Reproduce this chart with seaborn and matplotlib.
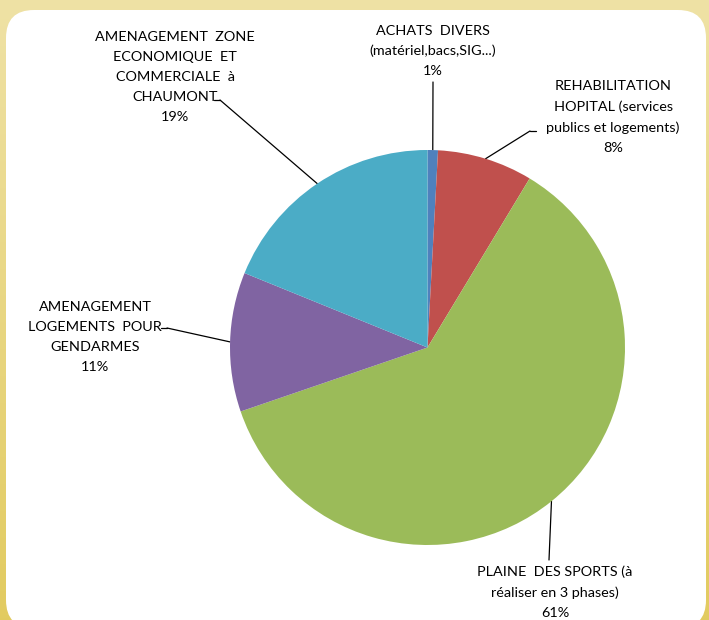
import numpy as np
import matplotlib
matplotlib.use("Agg")
import matplotlib.pyplot as plt
import seaborn as sns
from matplotlib.patches import FancyBboxPatch

# data (clockwise from 12 o'clock)
labels = [
    "ACHATS  DIVERS\n(matériel,bacs,SIG...)",
    "REHABILITATION\nHOPITAL (services\npublics et logements)",
    "PLAINE  DES SPORTS (à\nréaliser en 3 phases)",
    "AMENAGEMENT\nLOGEMENTS  POUR\nGENDARMES",
    "AMENAGEMENT  ZONE\nECONOMIQUE  ET\nCOMMERCIALE  à\nCHAUMONT",
]
values = [0.85, 7.8, 61.1, 11.4, 18.85]
colors = ["#4F81BD", "#C0504D", "#9BBB59", "#8064A2", "#4BACC6"]

# label anchor positions (pixels, image coords) and leader line ends
label_pos = [(433, 51), (613, 117), (555, 592), (95, 337), (175, 77)]
leader_end = [(433, 82), (530, 131), (549, 560), (167, 328), (220, 100)]
has_tick = [False, True, False, True, True]

sns.set_theme(style="white")
plt.rcParams["font.family"] = ["Lato", "DejaVu Sans"]

W, H = 709, 620
fig = plt.figure(figsize=(W / 100, H / 100), dpi=100)

# yellow gradient background + white rounded panel
bg = fig.add_axes([0, 0, 1, 1])
bg.set_xlim(0, W)
bg.set_ylim(H, 0)
bg.axis("off")
c1 = np.array([0.937, 0.886, 0.647])
c2 = np.array([0.886, 0.796, 0.376])
t = np.linspace(0, 1, 256)[:, None, None]
grad = c1 * (1 - t) + c2 * t
grad = np.repeat(grad, 2, axis=1)
bg.imshow(grad, extent=[0, W, H, 0], aspect="auto", zorder=0)
bg.add_patch(FancyBboxPatch((6 + 28, 10 + 28), 700 - 56, 618 - 56,
                            boxstyle="round,pad=28", fc="white", ec="none", zorder=1))

# pie
cx, cy, r = 427.5, 347.5, 197.5
ax = fig.add_axes([(cx - r) / W, (H - cy - r) / H, 2 * r / W, 2 * r / H])
wedges, _ = ax.pie(values, colors=sns.color_palette(colors), startangle=90,
                   counterclock=False, radius=1,
                   wedgeprops=dict(linewidth=0))
ax.set_xlim(-1, 1)
ax.set_ylim(-1, 1)
ax.axis("off")

pct = np.array(values) / sum(values) * 100
for w, lab, p, (lx, ly), (ex, ey), tick in zip(wedges, labels, pct, label_pos,
                                                 leader_end, has_tick):
    ang = np.deg2rad((w.theta1 + w.theta2) / 2)
    px = cx + r * np.cos(ang)
    py = cy - r * np.sin(ang)
    bg.plot([px, ex], [py, ey], color="black", lw=0.9, zorder=3)
    if tick:
        dx = 6 if ex > cx else -6
        bg.plot([ex, ex + dx], [ey, ey], color="black", lw=0.9, zorder=3)
    bg.text(lx, ly, f"{lab}\n{p:.0f}%", ha="center", va="center",
            fontsize=10.4, color="black", linespacing=1.78, zorder=4)

fig.savefig("out.png", dpi=100)
